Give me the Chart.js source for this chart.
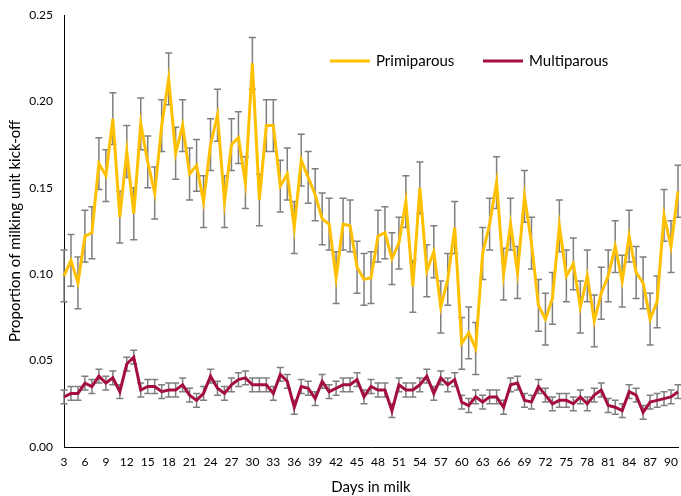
<!DOCTYPE html>
<html>
<head>
<meta charset="utf-8">
<script src="https://cdn.jsdelivr.net/npm/chart.js@4"></script>
<style>
  html, body { margin: 0; padding: 0; background: #fff; }
  #wrap { width: 681px; height: 496px; }
</style>
</head>
<body>
<div id="wrap"><canvas id="kickoffChart" width="681" height="496"></canvas></div>
<script>
const days = [3, 4, 5, 6, 7, 8, 9, 10, 11, 12, 13, 14, 15, 16, 17, 18, 19, 20, 21, 22,
  23, 24, 25, 26, 27, 28, 29, 30, 31, 32, 33, 34, 35, 36, 37, 38, 39, 40, 41, 42,
  43, 44, 45, 46, 47, 48, 49, 50, 51, 52, 53, 54, 55, 56, 57, 58, 59, 60, 61, 62,
  63, 64, 65, 66, 67, 68, 69, 70, 71, 72, 73, 74, 75, 76, 77, 78, 79, 80, 81, 82,
  83, 84, 85, 86, 87, 88, 89, 90, 91];

const xTickLabels = [3, 6, 9, 12, 15, 18, 21, 24, 27, 30, 33, 36, 39, 42, 45, 48,
  51, 54, 57, 60, 63, 66, 69, 72, 75, 78, 81, 84, 87, 90];

const yTicks = [0, 0.05, 0.10, 0.15, 0.20, 0.25];

const primiparous = [0.099, 0.108, 0.095, 0.122, 0.124, 0.164, 0.157, 0.190, 0.133, 0.171,
  0.135, 0.187, 0.165, 0.147, 0.186, 0.213, 0.170, 0.186, 0.158, 0.163,
  0.142, 0.175, 0.192, 0.142, 0.175, 0.179, 0.153, 0.222, 0.143, 0.186,
  0.186, 0.151, 0.158, 0.127, 0.166, 0.156, 0.146, 0.132, 0.129, 0.098,
  0.129, 0.128, 0.104, 0.097, 0.098, 0.122, 0.124, 0.109, 0.118, 0.142,
  0.093, 0.150, 0.102, 0.113, 0.081, 0.097, 0.127, 0.060, 0.066, 0.057,
  0.112, 0.129, 0.153, 0.100, 0.129, 0.101, 0.145, 0.118, 0.082, 0.074,
  0.086, 0.128, 0.099, 0.106, 0.081, 0.099, 0.073, 0.089, 0.099, 0.116,
  0.096, 0.122, 0.101, 0.095, 0.074, 0.084, 0.134, 0.116, 0.148];

const multiparous = [0.029, 0.031, 0.031, 0.037, 0.035, 0.041, 0.037, 0.040, 0.032, 0.048,
  0.052, 0.033, 0.035, 0.035, 0.032, 0.033, 0.033, 0.036, 0.030, 0.027,
  0.031, 0.041, 0.034, 0.031, 0.036, 0.039, 0.040, 0.036, 0.036, 0.036,
  0.031, 0.042, 0.038, 0.023, 0.035, 0.034, 0.028, 0.038, 0.032, 0.034,
  0.036, 0.036, 0.039, 0.029, 0.035, 0.033, 0.033, 0.021, 0.036, 0.033,
  0.033, 0.036, 0.041, 0.031, 0.040, 0.036, 0.039, 0.026, 0.024, 0.029,
  0.026, 0.029, 0.029, 0.023, 0.036, 0.037, 0.027, 0.026, 0.035, 0.030,
  0.025, 0.027, 0.027, 0.025, 0.029, 0.025, 0.030, 0.033, 0.024, 0.023,
  0.021, 0.032, 0.030, 0.020, 0.026, 0.027, 0.028, 0.029, 0.032];

// standard errors, roughly the same at every day
const primError = 0.015;
const multiError = 0.004;

const FONT = 'Lato, "Open Sans", sans-serif';

// draws the grey error bars behind the lines
const errorBars = {
  id: 'errorBars',
  beforeDatasetsDraw(chart) {
    const ctx = chart.ctx;
    const x = chart.scales.x;
    const y = chart.scales.y;
    ctx.save();
    ctx.strokeStyle = '#7f7f7f';
    ctx.lineWidth = 1.5;
    chart.data.datasets.forEach(ds => {
      ds.data.forEach((v, i) => {
        const px = x.getPixelForValue(i);
        const top = y.getPixelForValue(v + ds.err);
        const bot = y.getPixelForValue(v - ds.err);
        ctx.beginPath();
        ctx.moveTo(px, top);
        ctx.lineTo(px, bot);
        ctx.moveTo(px - 3.5, top);
        ctx.lineTo(px + 3.5, top);
        ctx.moveTo(px - 3.5, bot);
        ctx.lineTo(px + 3.5, bot);
        ctx.stroke();
      });
    });
    ctx.restore();
  }
};

// legend sits inside the plot, near the top
const innerLegend = {
  id: 'innerLegend',
  afterDraw(chart) {
    const ctx = chart.ctx;
    const items = [
      { text: 'Primiparous', color: '#ffc000', x: 330 },
      { text: 'Multiparous', color: '#a50f3f', x: 483 }
    ];
    ctx.save();
    ctx.font = '15px ' + FONT;
    ctx.textBaseline = 'middle';
    items.forEach(it => {
      ctx.strokeStyle = it.color;
      ctx.lineWidth = 3;
      ctx.beginPath();
      ctx.moveTo(it.x, 61);
      ctx.lineTo(it.x + 40, 61);
      ctx.stroke();
      ctx.fillStyle = '#000';
      ctx.fillText(it.text, it.x + 46, 61);
    });
    ctx.restore();
  }
};

const ctx = document.getElementById('kickoffChart').getContext('2d');
const kickoffChart = new Chart(ctx, {
  type: 'line',
  data: {
    labels: days,
    datasets: [{
      label: 'Primiparous',
      data: primiparous,
      err: primError,
      borderColor: '#ffc000',
      borderWidth: 3,
      pointRadius: 0,
      tension: 0
    }, {
      label: 'Multiparous',
      data: multiparous,
      err: multiError,
      borderColor: '#a50f3f',
      borderWidth: 3,
      pointRadius: 0,
      tension: 0
    }]
  },
  options: {
    responsive: false,
    animation: false,
    layout: { padding: { top: 15, right: 1, left: 0, bottom: 0 } },
    plugins: {
      legend: { display: false },
      tooltip: { enabled: false }
    },
    scales: {
      x: {
        type: 'category',
        offset: false,
        grid: { display: false, drawTicks: true, tickLength: 5, color: '#000' },
        border: { display: true, color: '#000', width: 1 },
        ticks: {
          autoSkip: false,
          maxRotation: 0,
          padding: 3,
          color: '#000',
          font: { family: FONT, size: 12 },
          callback: function (val, idx) {
            const d = days[idx];
            return xTickLabels.includes(d) ? String(d) : '';
          }
        },
        title: {
          display: true,
          text: 'Days in milk',
          color: '#000',
          font: { family: FONT, size: 15 },
          padding: { top: 4, bottom: 0 }
        },
        afterFit(scale) { scale.height = 49; }
      },
      y: {
        min: 0,
        max: 0.25,
        afterBuildTicks(scale) {
          scale.ticks = yTicks.map(v => ({ value: v }));
        },
        grid: { display: false, drawTicks: true, tickLength: 5, color: '#000' },
        border: { display: true, color: '#000', width: 1 },
        ticks: {
          padding: 6,
          color: '#000',
          font: { family: FONT, size: 12 },
          callback: v => v.toFixed(2)
        },
        title: {
          display: true,
          text: 'Proportion of milking unit kick-off',
          color: '#000',
          font: { family: FONT, size: 15 },
          padding: { top: 6, bottom: 2 }
        },
        afterFit(scale) { scale.width = 64; }
      }
    }
  },
  plugins: [errorBars, innerLegend]
});
</script>
</body>
</html>
